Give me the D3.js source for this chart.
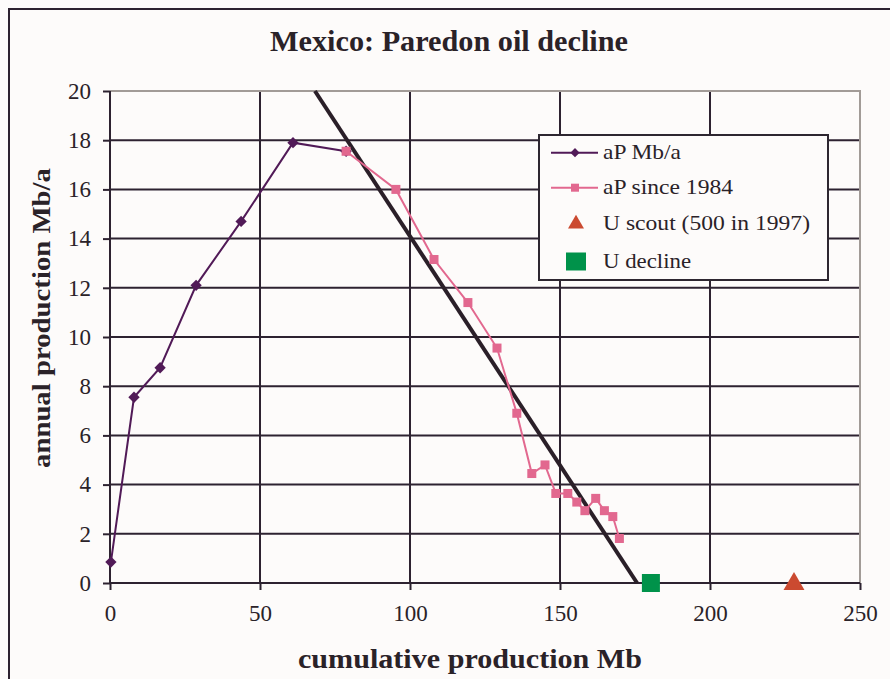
<!DOCTYPE html>
<html><head><meta charset="utf-8">
<script src="https://cdn.jsdelivr.net/npm/d3@7"></script>
<style>
body{margin:0;background:#fdfbfa;}
svg{display:block;font-family:"Liberation Serif","Times New Roman",serif;}
</style></head>
<body>
<svg id="c" width="890" height="679"></svg>
<script>
const xTicks = [0, 50, 100, 150, 200, 250];
const yTicks = [0, 2, 4, 6, 8, 10, 12, 14, 16, 18, 20];
const apCum = [0.3, 8, 16.7, 28.7, 43.7, 61, 78.7];
const apVal = [0.85, 7.55, 8.75, 12.1, 14.7, 17.9, 17.55];
const since84Cum = [78.7, 95.3, 108, 119.3, 129, 135.6, 140.6, 145, 148.6, 152.6, 155.6, 158.3, 161.9, 164.8, 167.6, 169.8];
const since84Val = [17.55, 16.0, 13.15, 11.4, 9.55, 6.9, 4.45, 4.8, 3.64, 3.64, 3.29, 2.94, 3.44, 2.94, 2.70, 1.81];
const declineCum = [68.3, 175.7];
const declineVal = [20, 0];
const uScout = [228];
const uDecline = [180.3];
const legendLabels = ["aP Mb/a", "aP since 1984", "U scout (500 in 1997)", "U decline"];

const svg = d3.select("#c");
const W = 890, H = 679;
const x = d3.scaleLinear().domain([0,250]).range([110,860]);
const y = d3.scaleLinear().domain([0,20]).range([583,91]);
const dark = "#2d2230";
const txt = "#2a2228";

svg.append("rect").attr("x",0).attr("y",0).attr("width",W).attr("height",H).attr("fill","#fdfbfa");
// outer frame
svg.append("rect").attr("x",9).attr("y",9).attr("width",900).attr("height",700)
  .attr("fill","none").attr("stroke",dark).attr("stroke-width",2);

// gridlines
svg.append("g").selectAll("line").data(yTicks.filter(d=>d>0 && d<20)).join("line")
  .attr("x1",x(0)).attr("x2",x(250)).attr("y1",d=>y(d)).attr("y2",d=>y(d))
  .attr("stroke",dark).attr("stroke-width",2);
svg.append("g").selectAll("line").data(xTicks.filter(d=>d>0 && d<250)).join("line")
  .attr("y1",y(0)).attr("y2",y(20)).attr("x1",d=>x(d)).attr("x2",d=>x(d))
  .attr("stroke",dark).attr("stroke-width",2);
// top & right borders (gray)
svg.append("line").attr("x1",x(0)).attr("x2",x(250)+1).attr("y1",y(20)).attr("y2",y(20)).attr("stroke","#a29b97").attr("stroke-width",2);
svg.append("line").attr("x1",x(250)).attr("x2",x(250)).attr("y1",y(20)).attr("y2",y(0)).attr("stroke","#a29b97").attr("stroke-width",2);

// axes
const yAxis = d3.axisLeft(y).tickValues(yTicks).tickSize(7).tickPadding(12).tickFormat(d3.format("d"));
const gy = svg.append("g").attr("transform",`translate(${x(0)},0)`).call(yAxis);
const xAxis = d3.axisBottom(x).tickValues(xTicks).tickSize(7).tickPadding(15).tickFormat(d3.format("d"));
const gx = svg.append("g").attr("transform",`translate(0,${y(0)})`).call(xAxis);
[gx,gy].forEach(g=>{
  g.select(".domain").attr("stroke",dark).attr("stroke-width",2);
  g.selectAll(".tick line").attr("stroke",dark).attr("stroke-width",2);
  g.selectAll(".tick text").attr("fill",txt).style("font-size","23px").style("font-family","'Liberation Serif',serif");
});
gx.select(".domain").attr("d",`M${x(0)},0H${x(250)}`);
gy.select(".domain").attr("d",`M0,${y(0)}V${y(20)}`);

// decline line
const decl = declineCum.map((c,i)=>({x:c,y:declineVal[i]}));
const line = d3.line().x(d=>x(d.x)).y(d=>y(d.y));
svg.append("path").datum(decl).attr("d",line)
  .attr("stroke","#2a1f28").attr("stroke-width",4).attr("fill","none");

// aP series
const purple = "#511a57", pink = "#e2688f";
const ap = apCum.map((c,i)=>({x:c,y:apVal[i]}));
const s84 = since84Cum.map((c,i)=>({x:c,y:since84Val[i]}));
svg.append("path").datum(ap).attr("d",line).attr("stroke",purple).attr("stroke-width",2).attr("fill","none");
svg.append("path").datum(s84).attr("d",line).attr("stroke",pink).attr("stroke-width",2).attr("fill","none");
svg.append("g").selectAll("path").data(ap).join("path")
  .attr("d",d3.symbol(d3.symbolSquare,64)).attr("transform",d=>`translate(${x(d.x)},${y(d.y)}) rotate(45)`).attr("fill",purple);
svg.append("g").selectAll("rect").data(s84).join("rect")
  .attr("x",d=>x(d.x)-4.5).attr("y",d=>y(d.y)-4.5).attr("width",9).attr("height",9).attr("fill",pink);

// U points
svg.append("g").selectAll("path").data(uScout).join("path")
  .attr("d",d3.symbol(d3.symbolTriangle,190)).attr("transform",d=>`translate(${x(d)},${y(0)+1})`).attr("fill","#cb4a30");
svg.append("g").selectAll("rect").data(uDecline).join("rect")
  .attr("x",d=>x(d)-9).attr("y",y(0)-9).attr("width",18).attr("height",18).attr("fill","#00924a");

// legend
const lg = svg.append("g");
lg.append("rect").attr("x",539).attr("y",135).attr("width",289).attr("height",145)
  .attr("fill","#fdfbfa").attr("stroke","#2d2630").attr("stroke-width",2);
const ly = [152.7, 187.7, 224, 261.5];
const lw = [78, 130, 207, 88];
legendLabels.forEach((t,i)=>{
  lg.append("text").attr("x",603).attr("y",ly[i]+6).text(t)
    .attr("textLength",lw[i]).attr("lengthAdjust","spacingAndGlyphs")
    .style("font-size","21px").attr("fill",txt);
});
lg.append("line").attr("x1",551).attr("x2",598).attr("y1",ly[0]).attr("y2",ly[0]).attr("stroke",purple).attr("stroke-width",2);
lg.append("path").attr("d",d3.symbol(d3.symbolSquare,42)).attr("transform",`translate(575,${ly[0]}) rotate(45)`).attr("fill",purple);
lg.append("line").attr("x1",551).attr("x2",598).attr("y1",ly[1]).attr("y2",ly[1]).attr("stroke",pink).attr("stroke-width",2);
lg.append("rect").attr("x",571).attr("y",ly[1]-4).attr("width",8).attr("height",8).attr("fill",pink);
lg.append("path").attr("d",d3.symbol(d3.symbolTriangle,110)).attr("transform",`translate(576,${ly[2]})`).attr("fill","#cb4a30");
lg.append("rect").attr("x",566).attr("y",ly[3]-9).attr("width",20).attr("height",18).attr("fill","#00924a");

// titles
svg.append("text").attr("x",270).attr("y",50.5)
  .attr("textLength",358).attr("lengthAdjust","spacingAndGlyphs")
  .style("font-size","30px").style("font-weight","bold").attr("fill",txt).text("Mexico: Paredon oil decline");
svg.append("text").attr("x",298).attr("y",668)
  .attr("textLength",344).attr("lengthAdjust","spacingAndGlyphs")
  .style("font-size","27px").style("font-weight","bold").attr("fill",txt).text("cumulative production Mb");
svg.append("text").attr("transform","translate(50,468) rotate(-90)")
  .attr("textLength",300).attr("lengthAdjust","spacingAndGlyphs")
  .style("font-size","26px").style("font-weight","bold").attr("fill",txt).text("annual production Mb/a");
</script>
</body></html>
